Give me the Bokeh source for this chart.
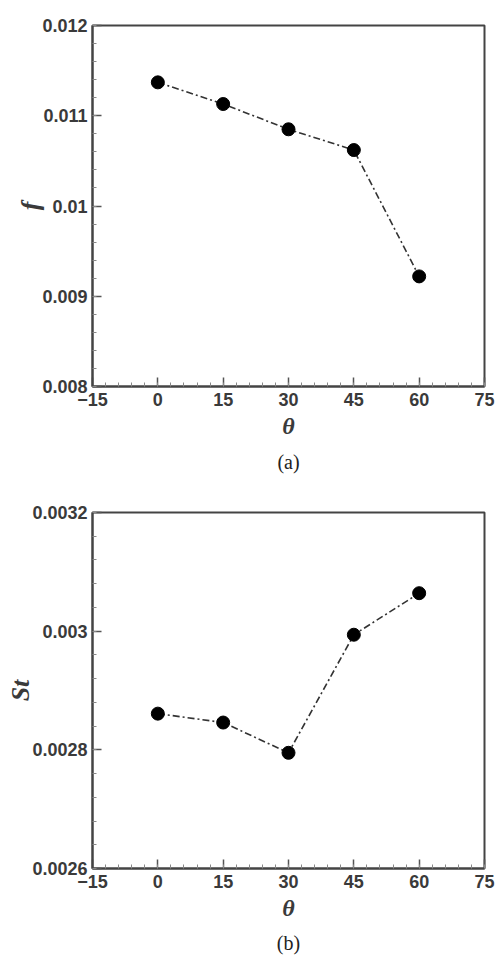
from bokeh.plotting import figure
from bokeh.layouts import column
from bokeh.models import SingleIntervalTicker, CustomJSTickFormatter, Title, Range1d
from bokeh.embed import file_html
from bokeh.resources import INLINE

# ---- data ----
theta = [0, 15, 30, 45, 60]
f_vals = [0.01137, 0.01113, 0.01085, 0.01062, 0.00922]
st_vals = [0.002861, 0.002846, 0.002795, 0.002994, 0.003064]

x_range_a = (-15, 75)
y_range_a = (0.008, 0.012)
y_range_b = (0.0026, 0.0032)
x_tick_step = 15
y_tick_step_a = 0.001
y_tick_step_b = 0.0002

TICK_FONT = "Liberation Sans"
SERIF = "Liberation Serif"
DARK = "#3a3a3a"


def make_panel(yvals, yr, ystep, ylabel, caption, top, bottom, cap_standoff, xlab_standoff):
    p = figure(width=497, height=480, output_backend="svg", toolbar_location=None,
               x_range=Range1d(*x_range_a), y_range=Range1d(*yr),
               min_border_left=92, min_border_right=13,
               min_border_top=top, min_border_bottom=bottom)
    p.grid.visible = False
    p.outline_line_color = "#444444"
    p.outline_line_width = 2
    p.background_fill_color = "white"
    p.border_fill_color = "white"

    p.xaxis.ticker = SingleIntervalTicker(interval=x_tick_step, num_minor_ticks=5)
    p.yaxis.ticker = SingleIntervalTicker(interval=ystep, num_minor_ticks=5)
    p.yaxis.formatter = CustomJSTickFormatter(code="return (Math.round(tick*1e5)/1e5).toString();")

    for ax in (p.xaxis[0], p.yaxis[0]):
        ax.axis_line_color = "#444444"
        ax.axis_line_width = 2
        ax.major_tick_in = 9
        ax.major_tick_out = 0
        ax.minor_tick_in = 4
        ax.minor_tick_out = 0
        ax.major_tick_line_color = "#555555"
        ax.major_tick_line_width = 1.5
        ax.minor_tick_line_color = "#888888"
        ax.major_label_text_font = TICK_FONT
        ax.major_label_text_font_style = "bold"
        ax.major_label_text_font_size = "18px"
        ax.major_label_text_color = DARK
        ax.axis_label_text_font = SERIF
        ax.axis_label_text_font_style = "bold italic"
        ax.axis_label_text_color = DARK

    p.xaxis.major_label_standoff = 6
    p.yaxis.major_label_standoff = 5
    p.xaxis.axis_label = "θ"
    p.xaxis.axis_label_text_font_size = "24px"
    p.xaxis.axis_label_standoff = xlab_standoff
    p.yaxis.axis_label = ylabel
    p.yaxis.axis_label_text_font_size = "26px"
    p.yaxis.axis_label_standoff = -6

    p.line(theta, yvals, line_color="#333333", line_width=1.6, line_dash="7 3 2 3")
    p.scatter(theta, yvals, size=13, fill_color="black", line_color="black")

    cap = Title(text=caption, align="center", text_font=SERIF, text_font_size="20px",
                text_font_style="normal", text_color="#222222", standoff=cap_standoff)
    p.add_layout(cap, "below")
    return p


pa = make_panel(f_vals, y_range_a, y_tick_step_a, "f", "(a)", 25, 94, 15, 4)
pb = make_panel(st_vals, y_range_b, y_tick_step_b, "St", "(b)", 32, 91, 13, 4)

layout = column(pa, pb, spacing=0)
open("out.html", "w").write(file_html(layout, INLINE))
